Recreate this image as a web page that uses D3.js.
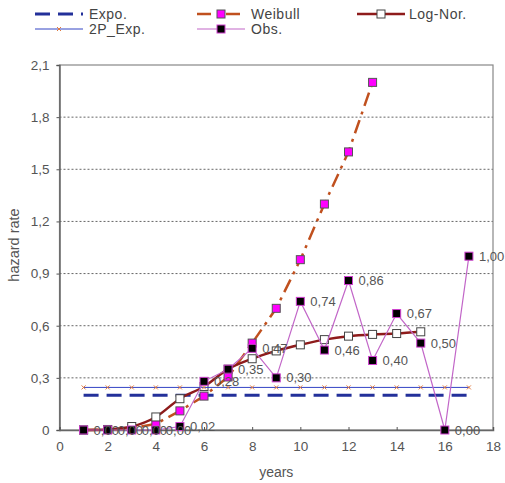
<!DOCTYPE html>
<html>
<head>
<meta charset="utf-8">
<script src="https://cdn.jsdelivr.net/npm/d3@7"></script>
<style>
  body { margin: 0; background: #fff; }
  svg { display: block; font-family: "Liberation Sans", Arial, sans-serif; }
</style>
</head>
<body>
<script>
// values
const years = [1, 2, 3, 4, 5, 6, 7, 8, 9, 10, 11, 12, 13, 14, 15, 16, 17];
const expo = years.map(() => 0.2);
const twoPExp = years.map(() => 0.245);
const weibullYears = [1, 2, 3, 4, 5, 6, 7, 8, 9, 10, 11, 12, 13];
const weibull = [0, 0.002, 0.01, 0.035, 0.11, 0.195, 0.305, 0.5, 0.7, 0.98, 1.3, 1.6, 2.0];
const logNorYears = [1, 2, 3, 4, 5, 6, 7, 8, 9, 10, 11, 12, 13, 14, 15];
const logNor = [0, 0.003, 0.02, 0.075, 0.18, 0.25, 0.35, 0.41, 0.455, 0.49, 0.52, 0.54, 0.55, 0.555, 0.565];
const obs = [0, 0, 0, 0, 0.02, 0.28, 0.35, 0.47, 0.30, 0.74, 0.46, 0.86, 0.40, 0.67, 0.50, 0, 1.00];
const xTicks = [0, 2, 4, 6, 8, 10, 12, 14, 16, 18];
const yTicks = [0, 0.3, 0.6, 0.9, 1.2, 1.5, 1.8, 2.1];

const width = 505, height = 483;
const margin = {top: 65, right: 12, bottom: 53, left: 59.5};

const x = d3.scaleLinear().domain([0, 18]).range([margin.left, width - margin.right]);
const y = d3.scaleLinear().domain([0, 2.1]).range([height - margin.bottom, margin.top]);
const fmt = d => d3.format("~g")(d).replace(".", ",");

const svg = d3.select("body").append("svg")
    .attr("width", width)
    .attr("height", height);

// gridlines
svg.append("g")
  .selectAll("line")
  .data(yTicks.slice(1, -1))
  .join("line")
    .attr("x1", x(0)).attr("x2", x(18))
    .attr("y1", d => y(d)).attr("y2", d => y(d))
    .attr("stroke", "#666").attr("stroke-width", 1)
    .attr("stroke-dasharray", "2,2");

// frame
svg.append("rect")
    .attr("x", x(0)).attr("y", y(2.1))
    .attr("width", x(18) - x(0)).attr("height", y(0) - y(2.1))
    .attr("fill", "none").attr("stroke", "#888").attr("stroke-width", 1.2);

// axes
const yAxis = d3.axisLeft(y).tickValues(yTicks).tickFormat(fmt).tickSize(3).tickPadding(7);
svg.append("g")
    .attr("transform", `translate(${x(0)},0)`)
    .call(yAxis)
    .call(g => g.select(".domain").attr("stroke", "#666").attr("stroke-width", 1.5))
    .call(g => g.selectAll(".tick line").attr("stroke", "#555"))
    .call(g => g.selectAll("text").attr("font-size", 13.5).attr("fill", "#555"));

const xAxis = d3.axisBottom(x).tickValues(xTicks).tickSize(-3).tickPadding(11);
svg.append("g")
    .attr("transform", `translate(0,${y(0)})`)
    .call(xAxis)
    .call(g => g.select(".domain").attr("stroke", "#666").attr("stroke-width", 1.5))
    .call(g => g.selectAll(".tick line").attr("stroke", "#555"))
    .call(g => g.selectAll("text").attr("font-size", 13.5).attr("fill", "#555"));

svg.append("text")
    .attr("x", (x(0) + x(18)) / 2).attr("y", 477)
    .attr("text-anchor", "middle")
    .attr("font-size", 14).attr("fill", "#555")
    .text("years");

svg.append("text")
    .attr("transform", `translate(19,245) rotate(-90)`)
    .attr("text-anchor", "middle")
    .attr("font-size", 14.5).attr("fill", "#555")
    .text("hazard rate");

const line = d3.line().x(d => x(d[0])).y(d => y(d[1]));

// Expo
svg.append("path")
    .datum(d3.zip(years, expo))
    .attr("d", line)
    .attr("fill", "none").attr("stroke", "#23309a").attr("stroke-width", 3)
    .attr("stroke-dasharray", "15,8");

// Weibull
svg.append("path")
    .datum(d3.zip(weibullYears, weibull))
    .attr("d", line)
    .attr("fill", "none").attr("stroke", "#c0501e").attr("stroke-width", 2.5)
    .attr("stroke-dasharray", "14,6,3,6");
svg.append("g")
  .selectAll("rect")
  .data(d3.zip(weibullYears, weibull))
  .join("rect")
    .attr("x", d => x(d[0]) - 4).attr("y", d => y(d[1]) - 4)
    .attr("width", 8).attr("height", 8)
    .attr("fill", "#ff00ff").attr("stroke", "#555").attr("stroke-width", 1);

// Log-Nor
svg.append("path")
    .datum(d3.zip(logNorYears, logNor))
    .attr("d", line.curve(d3.curveMonotoneX))
    .attr("fill", "none").attr("stroke", "#8e1b1b").attr("stroke-width", 2.5);
line.curve(d3.curveLinear);
svg.append("g")
  .selectAll("rect")
  .data(d3.zip(logNorYears, logNor))
  .join("rect")
    .attr("x", d => x(d[0]) - 4).attr("y", d => y(d[1]) - 4)
    .attr("width", 8).attr("height", 8)
    .attr("fill", "#fff").attr("stroke", "#444").attr("stroke-width", 1);

// 2P_Exp
svg.append("path")
    .datum(d3.zip(years, twoPExp))
    .attr("d", line)
    .attr("fill", "none").attr("stroke", "#3344c4").attr("stroke-width", 1);
svg.append("g")
  .selectAll("path")
  .data(d3.zip(years, twoPExp))
  .join("path")
    .attr("d", d => `M${x(d[0]) - 2},${y(d[1]) - 2}l4,4M${x(d[0]) + 2},${y(d[1]) - 2}l-4,4`)
    .attr("stroke", "#e07a40").attr("stroke-width", 1);

// Obs
svg.append("path")
    .datum(d3.zip(years, obs))
    .attr("d", line)
    .attr("fill", "none").attr("stroke", "#c266c8").attr("stroke-width", 1.2);
svg.append("g")
  .selectAll("rect")
  .data(d3.zip(years, obs))
  .join("rect")
    .attr("x", d => x(d[0]) - 4).attr("y", d => y(d[1]) - 4)
    .attr("width", 8).attr("height", 8)
    .attr("fill", "#000").attr("stroke", "#d040d0").attr("stroke-width", 1);

svg.append("g")
  .selectAll("text")
  .data(d3.zip(years, obs))
  .join("text")
    .attr("x", d => x(d[0]) + 10).attr("y", d => y(d[1]))
    .attr("dy", "0.35em")
    .attr("font-size", 13).attr("fill", "#555")
    .text(d => d3.format(".2f")(d[1]).replace(".", ","));

// legend
const legendItems = [
  {name: "Expo.", x: 35, y: 14, stroke: "#23309a", w: 3, dash: "15,8", marker: null},
  {name: "Weibull", x: 197, y: 14, stroke: "#c0501e", w: 2.5, dash: "14,6,3,6", marker: {fill: "#ff00ff", stroke: "#555"}},
  {name: "Log-Nor.", x: 357, y: 14, stroke: "#8e1b1b", w: 2.5, dash: null, marker: {fill: "#fff", stroke: "#444"}},
  {name: "2P_Exp.", x: 35, y: 29, stroke: "#3344c4", w: 1, dash: null, marker: "x"},
  {name: "Obs.", x: 197, y: 29, stroke: "#c266c8", w: 1.2, dash: null, marker: {fill: "#000", stroke: "#d040d0"}}
];
const lg = svg.append("g").selectAll("g").data(legendItems).join("g")
    .attr("transform", d => `translate(${d.x},${d.y})`);
lg.append("line")
    .attr("x1", 0).attr("x2", 48).attr("y1", 0).attr("y2", 0)
    .attr("stroke", d => d.stroke).attr("stroke-width", d => d.w)
    .attr("stroke-dasharray", d => d.dash);
lg.filter(d => d.marker && d.marker !== "x").append("rect")
    .attr("x", 20).attr("y", -4).attr("width", 8).attr("height", 8)
    .attr("fill", d => d.marker.fill).attr("stroke", d => d.marker.stroke);
lg.filter(d => d.marker === "x").append("path")
    .attr("d", "M22,-2l4,4M26,-2l-4,4")
    .attr("stroke", "#e07a40");
lg.append("text")
    .attr("x", d => d.name === "Log-Nor." ? 52 : 54).attr("dy", "0.35em")
    .attr("font-size", 14).attr("letter-spacing", 0.5).attr("fill", "#444")
    .text(d => d.name);
</script>
</body>
</html>
